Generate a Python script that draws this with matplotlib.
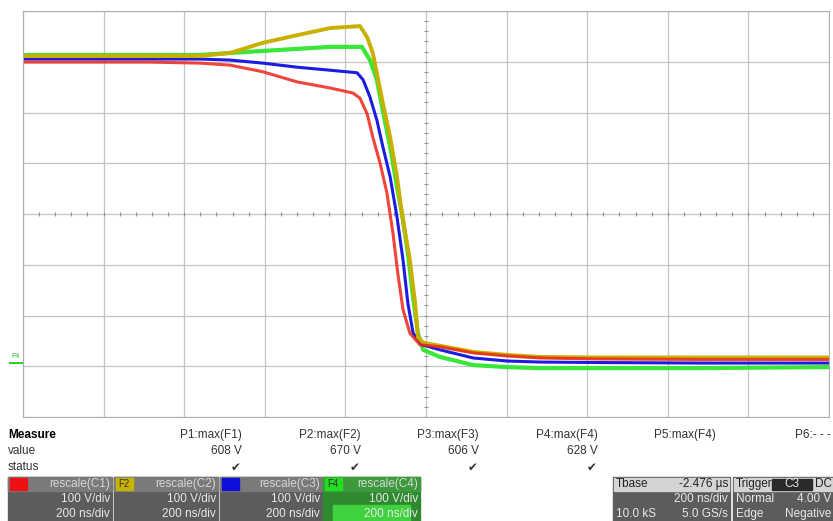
import numpy as np
import matplotlib
matplotlib.use("Agg")
import matplotlib.pyplot as plt
from matplotlib.patches import Rectangle

plt.rcParams['font.family'] = ['Liberation Sans Narrow', 'Liberation Sans', 'DejaVu Sans']

# time in ns (200 ns/div, trigger at centre), voltage in V (100 V/div)
t_c1 = [-1000, -685, -561, -486, -405, -320, -238, -181, -164, -146, -132, -114, -97,
        -82, -70, -57, -40, -15, 35, 117, 201, 283, 432, 680, 1000]
v_c1 = [583, 583, 581, 577, 564, 544, 532, 522, 512, 481, 435, 384, 325,
        246, 167, 95, 49, 26, 22, 10, 4, 0, -2, -3, -3]

t_f2 = [-1000, -561, -486, -405, -320, -238, -164, -146, -132, -107, -89, -72, -60,
        -40, -27, -20, -7, 35, 117, 201, 283, 432, 680, 1000]
v_f2 = [595, 595, 601, 621, 636, 650, 654, 632, 601, 502, 435, 357, 286,
        193, 108, 41, 30, 24, 12, 6, 2, 1, 1, 1]

t_c3 = [-1000, -561, -486, -405, -320, -238, -171, -156, -139, -122, -107, -89, -72,
        -57, -45, -32, -10, 35, 117, 201, 283, 432, 680, 1000]
v_c3 = [589, 589, 587, 581, 573, 567, 562, 548, 514, 469, 416, 357, 278,
        193, 108, 49, 26, 16, 0, -6, -8, -9, -10, -10]

t_f4 = [-1000, -561, -486, -405, -320, -238, -159, -139, -122, -107, -89, -72, -60,
        -45, -32, -20, -7, 35, 117, 201, 283, 432, 680, 1000]
v_f4 = [597, 597, 601, 605, 609, 613, 613, 587, 548, 487, 416, 337, 286,
        207, 120, 49, 16, 2, -14, -18, -20, -20, -20, -18]

params = ['P1:max(F1)', 'P2:max(F2)', 'P3:max(F3)', 'P4:max(F4)', 'P5:max(F4)', 'P6:- - -']
values = ['608 V', '670 V', '606 V', '628 V', '', '']
status = ['✔', '✔', '✔', '✔', '', '']

W, H = 833, 521
fig = plt.figure(figsize=(W / 100, H / 100), dpi=100)
fig.patch.set_facecolor('white')


def fx(px):
    return px / W


def fy(py):
    return 1 - py / H


ax = fig.add_axes([fx(23), fy(417), fx(806), 406 / H])
ax.set_xlim(-1000, 1000)
y0 = -116.3
ax.set_ylim(y0, y0 + 800)
ax.set_xticks(np.arange(-1000, 1001, 200))
ax.set_yticks(y0 + np.arange(0, 801, 100))
ax.tick_params(length=0, labelbottom=False, labelleft=False)
ax.grid(True, color='#c4c4c4', linewidth=0.9)
for s in ax.spines.values():
    s.set_color('#b0b0b0')

# centre cross minor ticks
yc = y0 + 400
mx = np.arange(-1000, 1001, 40)
ax.plot(mx, np.full(mx.shape, yc), '|', color='#909090', ms=3, mew=0.8)
my = y0 + np.arange(0, 801, 20)
ax.plot(np.zeros(my.shape), my, '_', color='#909090', ms=3, mew=0.8)

ax.plot(t_f4, v_f4, color='#3ae63a', lw=3.0)
ax.plot(t_c3, v_c3, color='#1c1ce0', lw=2.2)
ax.plot(t_f2, v_f2, color='#c8b000', lw=2.8)
ax.plot(t_c1, v_c1, color='#ee2418', lw=2.2, alpha=0.85)

# trace marker on the left
fig.text(fx(11), fy(356), 'F4', color='#33bb33', fontsize=5, va='center', ha='left')
fig.add_artist(plt.Line2D([fx(10), fx(22)], [fy(363), fy(363)], color='#33cc33', lw=1.5))

# measurement table
fs = 8.5
fig.text(fx(8), fy(435), 'Measure', fontsize=fs, fontweight='bold', va='center')
fig.text(fx(8), fy(451), 'value', fontsize=fs, va='center', color='#333333')
fig.text(fx(8), fy(467), 'status', fontsize=fs, va='center', color='#333333')
xs = [242, 361, 479, 598, 716, 831]
for x, p, v, s in zip(xs, params, values, status):
    fig.text(fx(x), fy(435), p, fontsize=fs, ha='right', va='center', color='#333333')
    if v:
        fig.text(fx(x), fy(451), v, fontsize=fs, ha='right', va='center', color='#333333')
    if s:
        fig.text(fx(x - 1), fy(467), s, fontsize=fs, ha='right', va='center', color='#333333',
                 family=['DejaVu Sans'])

# channel descriptor boxes
boxes = [(8, 112, '#ee1111', '', 'rescale(C1)'),
         (114, 218, '#c8b400', 'F2', 'rescale(C2)'),
         (220, 322, '#1010dd', '', 'rescale(C3)'),
         (323, 420, '#22dd22', 'F4', 'rescale(C4)')]
for i, (x1, x2, c, lab, name) in enumerate(boxes):
    fig.add_artist(Rectangle((fx(x1), 0), fx(x2 - x1), fy(477), transform=fig.transFigure,
                             color='#5c5c5c' if i < 3 else '#2f8a2f', zorder=1))
    fig.add_artist(Rectangle((fx(x1), fy(491)), fx(x2 - x1), 14 / H, transform=fig.transFigure,
                             color='#7a7a7a' if i < 3 else '#3c9a3c', zorder=1))
    if i == 3:
        fig.add_artist(Rectangle((fx(x1 + 10), 0), fx(x2 - x1 - 20), 16 / H,
                                 transform=fig.transFigure, color='#3fd23f', zorder=1))
    fig.add_artist(Rectangle((fx(x1 + 2), fy(490)), fx(17), 12 / H, transform=fig.transFigure,
                             color=c, zorder=2))
    if lab:
        fig.text(fx(x1 + 4), fy(484), lab, fontsize=7, va='center', color='#333333', zorder=3)
    fig.text(fx(x2 - 2), fy(484), name, fontsize=fs, ha='right', va='center', color='#d8d8d8', zorder=3)
    fig.text(fx(x2 - 2), fy(499), '100 V/div', fontsize=fs, ha='right', va='center', color='#e8e8e8', zorder=3)
    fig.text(fx(x2 - 2), fy(514), '200 ns/div', fontsize=fs, ha='right', va='center', color='#e8e8e8', zorder=3)

# timebase box
fig.add_artist(Rectangle((fx(613), 0), fx(117), fy(477), transform=fig.transFigure, color='#5c5c5c'))
fig.add_artist(Rectangle((fx(614), fy(491)), fx(115), 13 / H, transform=fig.transFigure, color='#d4d4d4'))
fig.text(fx(616), fy(484), 'Tbase', fontsize=fs, va='center', color='#222222')
fig.text(fx(728), fy(484), '-2.476 µs', fontsize=fs, ha='right', va='center', color='#222222')
fig.text(fx(728), fy(499), '200 ns/div', fontsize=fs, ha='right', va='center', color='#e8e8e8')
fig.text(fx(616), fy(514), '10.0 kS', fontsize=fs, va='center', color='#e8e8e8')
fig.text(fx(728), fy(514), '5.0 GS/s', fontsize=fs, ha='right', va='center', color='#e8e8e8')

# trigger box
fig.add_artist(Rectangle((fx(733), 0), fx(100), fy(477), transform=fig.transFigure, color='#5c5c5c'))
fig.add_artist(Rectangle((fx(734), fy(491)), fx(99), 13 / H, transform=fig.transFigure, color='#d4d4d4'))
fig.add_artist(Rectangle((fx(772), fy(490)), fx(40), 11 / H, transform=fig.transFigure, color='#2a2a2a'))
fig.text(fx(736), fy(484), 'Trigger', fontsize=fs, va='center', color='#222222')
fig.text(fx(792), fy(484), 'C3', fontsize=fs, ha='center', va='center', color='#e8e8e8')
fig.text(fx(815), fy(484), 'DC', fontsize=fs, va='center', color='#222222')
fig.text(fx(736), fy(499), 'Normal', fontsize=fs, va='center', color='#e8e8e8')
fig.text(fx(831), fy(499), '4.00 V', fontsize=fs, ha='right', va='center', color='#e8e8e8')
fig.text(fx(736), fy(514), 'Edge', fontsize=fs, va='center', color='#e8e8e8')
fig.text(fx(831), fy(514), 'Negative', fontsize=fs, ha='right', va='center', color='#e8e8e8')

fig.savefig('out.png', dpi=100)
